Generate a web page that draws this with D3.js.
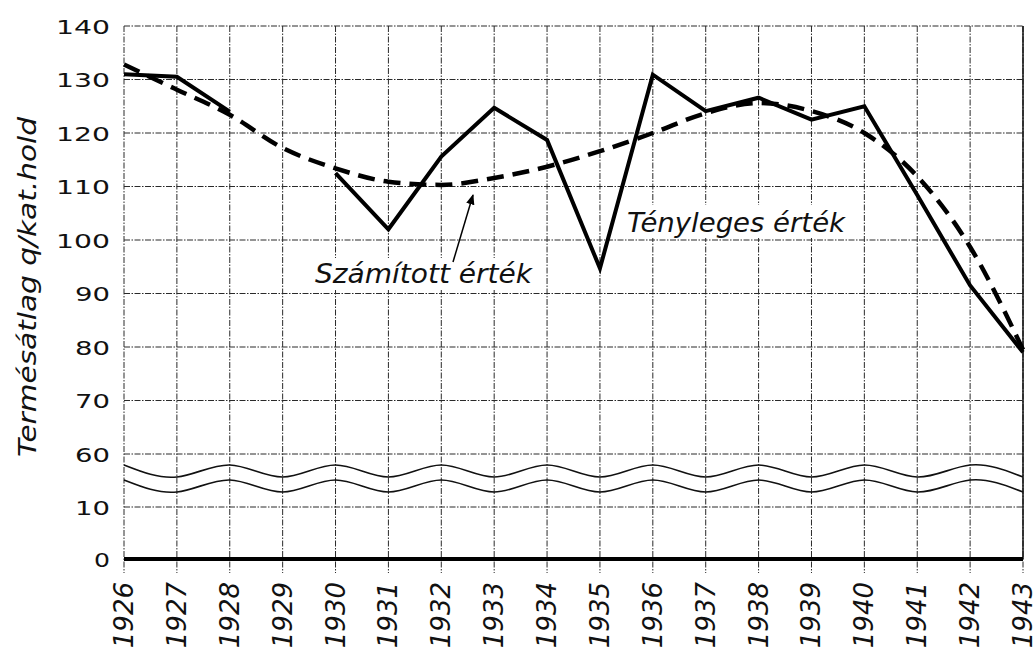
<!DOCTYPE html>
<html>
<head>
<meta charset="utf-8">
<script src="https://cdn.jsdelivr.net/npm/d3@7"></script>
<style>
  body { margin: 0; background: #fff; }
  svg { display: block; }
  text { font-family: "DejaVu Sans", sans-serif; fill: #111; }
</style>
</head>
<body>
<svg></svg>
<script>
'use strict';

const years = d3.range(1926, 1944);
// tényleges (actual) values, 1929 hidden under the dashed curve
const actual = [131, 130.5, 124, null, 112.5, 102, 115.6, 124.7, 118.7, 94.7, 130.9, 124.1, 126.6, 122.5, 125, 108.4, 91.5, 79];
// számított (computed) trend
const computed = [132.8, 128.1, 123.4, 117.2, 113.4, 110.9, 110.3, 111.6, 113.7, 116.6, 120, 123.7, 125.6, 124.1, 120, 111.9, 98.7, 79.5];
const yTicks = [0, 10, 60, 70, 80, 90, 100, 110, 120, 130, 140];

const width = 1035, height = 651;
const svg = d3.select("svg").attr("width", width).attr("height", height);

const x = d3.scaleLinear().domain([1926, 1943]).range([124, 1023]);
// broken axis: 10 -> 60 squeezed into one grid step
const y = d3.scaleLinear().domain([0, 10, 60, 140]).range([559, 507, 454, 26]);

const grid = svg.append("g")
  .attr("stroke", "#2a2a2a")
  .attr("stroke-width", 1)
  .attr("stroke-dasharray", "6,1.5,1.5,1.5");

grid.selectAll(".hgrid")
  .data(yTicks.filter(d => d > 0))
  .enter()
  .append("line")
  .attr("x1", x(1926)).attr("x2", x(1943))
  .attr("y1", d => y(d)).attr("y2", d => y(d));

grid.selectAll(".vgrid")
  .data(years)
  .enter()
  .append("line")
  .attr("x1", d => x(d)).attr("x2", d => x(d))
  .attr("y1", y(140)).attr("y2", y(0) + 14);

// right border is more solid
svg.append("line")
  .attr("x1", x(1943)).attr("x2", x(1943))
  .attr("y1", y(140)).attr("y2", y(0))
  .attr("stroke", "#111").attr("stroke-width", 1.5);

// zero axis
svg.append("line")
  .attr("x1", x(1926)).attr("x2", x(1943))
  .attr("y1", y(0)).attr("y2", y(0))
  .attr("stroke", "#000").attr("stroke-width", 4);

// break marks (two wavy lines)
const wave = d3.line().x(d => x(d[0])).y(d => d[1]).curve(d3.curveNatural);
const upper = years.map((yr, i) => [yr, i % 2 === 0 ? 465 : 477]);
const lower = years.map((yr, i) => [yr, i % 2 === 0 ? 480 : 492]);
[upper, lower].forEach(w => {
  svg.append("path").attr("d", wave(w))
    .attr("fill", "none").attr("stroke", "#111").attr("stroke-width", 1.6);
});

// y tick labels
svg.selectAll(".ylab")
  .data(yTicks)
  .enter()
  .append("text")
  .attr("x", 110)
  .attr("y", d => y(d) + 7.5)
  .attr("text-anchor", "end")
  .attr("textLength", d => String(d).length * 19 - 3)
  .attr("lengthAdjust", "spacingAndGlyphs")
  .style("font-size", "20px")
  .text(d => d);

// x tick labels
svg.selectAll(".xlab")
  .data(years)
  .enter()
  .append("text")
  .attr("transform", d => `translate(${x(d) + 9},582) rotate(-90)`)
  .attr("text-anchor", "end")
  .style("font-size", "26px")
  .style("font-style", "italic")
  .text(d => d);

// y title
svg.append("text")
  .attr("transform", "translate(36,287) rotate(-90)")
  .attr("text-anchor", "middle")
  .attr("textLength", 340)
  .attr("lengthAdjust", "spacingAndGlyphs")
  .style("font-size", "25px")
  .style("font-style", "italic")
  .text("Termésátlag q/kat.hold");

// white patches under the labels (grid is interrupted there)
svg.append("rect")
  .attr("x", 312).attr("y", 258).attr("width", 224).attr("height", 32)
  .attr("fill", "#fff");
svg.append("rect")
  .attr("x", 624).attr("y", 205).attr("width", 226).attr("height", 33)
  .attr("fill", "#fff");

// computed: smooth dashed curve
svg.append("path")
  .datum(years.map((yr, i) => [yr, computed[i]]))
  .attr("d", d3.line().x(d => x(d[0])).y(d => y(d[1])).curve(d3.curveMonotoneX))
  .attr("fill", "none")
  .attr("stroke", "#000")
  .attr("stroke-width", 4.5)
  .attr("stroke-dasharray", "17,9");

// actual: solid polyline
svg.append("path")
  .datum(years.map((yr, i) => [yr, actual[i]]))
  .attr("d", d3.line().defined(d => d[1] !== null).x(d => x(d[0])).y(d => y(d[1])))
  .attr("fill", "none")
  .attr("stroke", "#000")
  .attr("stroke-width", 4)
  .attr("stroke-linejoin", "miter");

// annotations
svg.append("text")
  .attr("x", 627).attr("y", 232)
  .attr("textLength", 218)
  .attr("lengthAdjust", "spacingAndGlyphs")
  .style("font-size", "27px")
  .style("font-style", "italic")
  .text("Tényleges érték");

svg.append("text")
  .attr("x", 315).attr("y", 283)
  .attr("textLength", 217)
  .attr("lengthAdjust", "spacingAndGlyphs")
  .style("font-size", "26px")
  .style("font-style", "italic")
  .text("Számított érték");

svg.append("defs").append("marker")
  .attr("id", "head")
  .attr("viewBox", "0 0 10 10")
  .attr("refX", 9).attr("refY", 5)
  .attr("markerWidth", 7).attr("markerHeight", 7)
  .attr("orient", "auto")
  .append("path").attr("d", "M0,1L10,5L0,9Z").attr("fill", "#000");

svg.append("line")
  .attr("x1", 453).attr("y1", 262)
  .attr("x2", 473).attr("y2", 195)
  .attr("stroke", "#000").attr("stroke-width", 1.5)
  .attr("marker-end", "url(#head)");
</script>
</body>
</html>
